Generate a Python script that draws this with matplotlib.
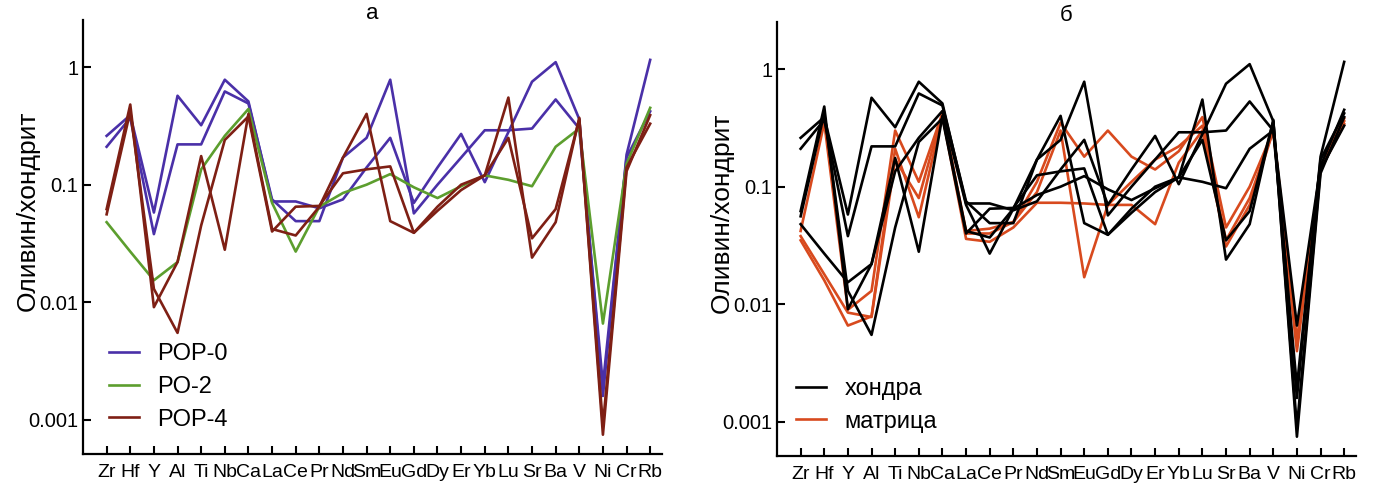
import numpy as np
import matplotlib
matplotlib.use("Agg")
import matplotlib.pyplot as plt
from matplotlib.lines import Line2D

plt.rcParams['font.family'] = ['Liberation Sans', 'DejaVu Sans']

elements = ["Zr", "Hf", "Y", "Al", "Ti", "Nb", "Ca", "La", "Ce", "Pr", "Nd", "Sm",
            "Eu", "Gd", "Dy", "Er", "Yb", "Lu", "Sr", "Ba", "V", "Ni", "Cr", "Rb"]

# chondrule series (POP-0: two analyses, PO-2: one, POP-4: two)
pop0_a = [0.26, 0.39, 0.058, 0.57, 0.32, 0.78, 0.51, 0.072, 0.072, 0.063, 0.075, 0.14,
          0.25, 0.070, 0.14, 0.27, 0.105, 0.28, 0.75, 1.10, 0.36, 0.0016, 0.18, 1.15]
pop0_b = [0.21, 0.37, 0.038, 0.22, 0.22, 0.62, 0.49, 0.075, 0.049, 0.049, 0.17, 0.25,
          0.78, 0.057, 0.10, 0.17, 0.29, 0.29, 0.30, 0.53, 0.30, 0.0020, 0.17, 0.42]
po2 = [0.048, 0.027, 0.0154, 0.022, 0.135, 0.26, 0.44, 0.070, 0.027, 0.065, 0.085, 0.10,
       0.123, 0.095, 0.077, 0.097, 0.12, 0.11, 0.097, 0.21, 0.30, 0.0066, 0.15, 0.45]
pop4_a = [0.062, 0.48, 0.0091, 0.022, 0.175, 0.028, 0.40, 0.042, 0.037, 0.065, 0.17, 0.40,
          0.049, 0.039, 0.060, 0.090, 0.12, 0.55, 0.024, 0.048, 0.37, 0.00075, 0.13, 0.39]
pop4_b = [0.056, 0.42, 0.013, 0.0055, 0.045, 0.24, 0.38, 0.040, 0.065, 0.066, 0.125, 0.135,
          0.143, 0.039, 0.065, 0.10, 0.12, 0.25, 0.035, 0.062, 0.36, 0.0009, 0.14, 0.33]

# matrix series
mat_a = [0.042, 0.35, 0.009, 0.013, 0.30, 0.11, 0.42, 0.042, 0.044, 0.050, 0.11, 0.35,
         0.18, 0.30, 0.18, 0.14, 0.20, 0.39, 0.045, 0.10, 0.30, 0.0040, 0.15, 0.38]
mat_b = [0.035, 0.016, 0.0066, 0.0079, 0.21, 0.055, 0.40, 0.036, 0.034, 0.045, 0.073, 0.073,
         0.072, 0.070, 0.070, 0.048, 0.16, 0.30, 0.031, 0.070, 0.30, 0.0050, 0.14, 0.34]
mat_c = [0.038, 0.018, 0.0085, 0.0078, 0.17, 0.08, 0.42, 0.040, 0.040, 0.050, 0.09, 0.30,
         0.017, 0.070, 0.11, 0.17, 0.22, 0.33, 0.035, 0.080, 0.30, 0.0045, 0.14, 0.36]

ytick_vals = [0.001, 0.01, 0.1, 1]
ytick_labels = ["0.001", "0.01", "0.1", "1"]

c_purple = "#4a30a8"
c_green = "#5c9e2e"
c_red = "#7e1f14"
c_orange = "#d84a1e"
lw = 1.9

fig = plt.figure(figsize=(13.77, 4.84), dpi=100)
axL = fig.add_axes([83/1377, 30/484, 579/1377, 434/484])
axR = fig.add_axes([777/1377, 28/484, 579/1377, 434/484])

x = np.arange(len(elements))

axL.plot(x, pop0_a, color=c_purple, lw=lw, label="POP-0")
axL.plot(x, pop0_b, color=c_purple, lw=lw)
axL.plot(x, po2, color=c_green, lw=lw, label="PO-2")
axL.plot(x, pop4_a, color=c_red, lw=lw, label="POP-4")
axL.plot(x, pop4_b, color=c_red, lw=lw)

axR.plot(x, mat_a, color=c_orange, lw=lw)
axR.plot(x, mat_b, color=c_orange, lw=lw)
axR.plot(x, mat_c, color=c_orange, lw=lw)
for s in [pop0_a, pop0_b, po2, pop4_a, pop4_b]:
    axR.plot(x, s, color="black", lw=lw)
hR = [Line2D([], [], color="black", lw=lw), Line2D([], [], color=c_orange, lw=lw)]

for ax, title in [(axL, "а"), (axR, "б")]:
    ax.set_yscale("log")
    ax.set_ylim(5.14e-4, 2.51)
    ax.set_xlim(-1.0, 23.5)
    ax.set_yticks(ytick_vals)
    ax.set_yticklabels(ytick_labels)
    ax.yaxis.set_minor_locator(matplotlib.ticker.NullLocator())
    ax.set_xticks(x)
    ax.set_xticklabels(elements)
    ax.tick_params(axis="y", direction="in", length=6, width=1.5, labelsize=14.5)
    ax.tick_params(axis="x", direction="in", length=6, width=1.5, labelsize=14, pad=7)
    ax.spines["top"].set_visible(False)
    ax.spines["right"].set_visible(False)
    ax.spines["left"].set_linewidth(1.6)
    ax.spines["bottom"].set_linewidth(1.6)
    ax.set_ylabel("Оливин/хондрит", fontsize=19)
    ax.yaxis.set_label_coords(-0.074, 0.56)
    ax.set_title(title, fontsize=16, y=1.0, pad=1)

axL.legend(loc="upper left", bbox_to_anchor=(0.045, 0.255), frameon=False, fontsize=17,
           handlelength=1.25, handletextpad=0.8, labelspacing=0.45, borderpad=0, borderaxespad=0)
axR.legend(hR, ["хондра", "матрица"], loc="upper left", bbox_to_anchor=(0.033, 0.18),
           frameon=False, fontsize=17, handlelength=1.25, handletextpad=0.8,
           labelspacing=0.45, borderpad=0, borderaxespad=0)

fig.savefig("out.png", dpi=100)
